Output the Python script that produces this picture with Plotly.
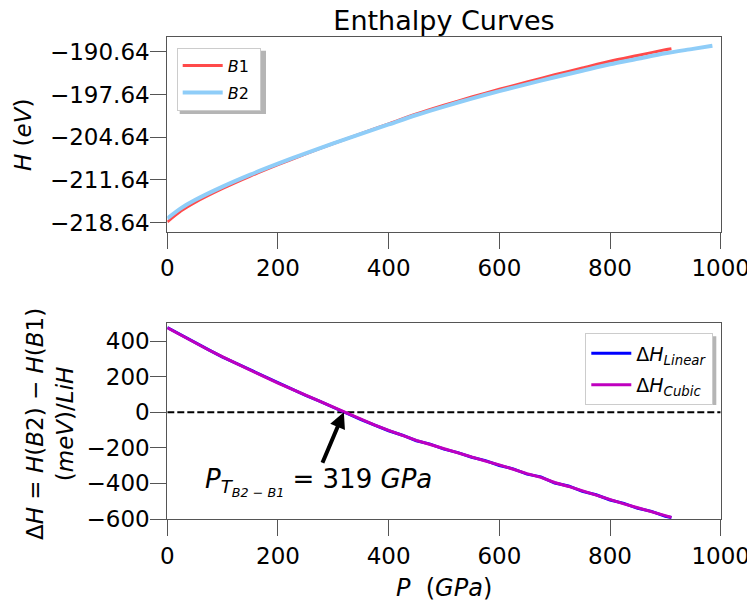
import plotly.graph_objects as go

# ---------------- data ----------------
P_B1 = [0, 25, 50, 100, 150, 200, 250, 300, 350, 400, 450, 500, 550, 600, 650, 700, 750, 800, 850, 900, 911]
H_B1 = [-218.50, -216.70, -215.32, -213.04, -211.01, -209.14, -207.37, -205.67, -204.06, -202.45, -200.84,
        -199.41, -198.06, -196.79, -195.60, -194.41, -193.31, -192.21, -191.26, -190.32, -190.15]

P_B2 = [0, 25, 50, 100, 150, 200, 250, 300, 350, 400, 450, 500, 550, 600, 650, 700, 750, 800, 850, 900, 950, 985]
H_B2 = [-217.94, -216.25, -214.93, -212.73, -210.77, -208.98, -207.27, -205.64, -204.10, -202.55, -201.00,
        -199.62, -198.31, -197.09, -195.95, -194.81, -193.75, -192.70, -191.80, -190.90, -190.17, -189.65]

P_dH = [0, 25, 50, 75, 100, 125, 150, 175, 200, 225, 250, 275, 300, 325, 350, 375, 400, 425, 450, 475,
        500, 525, 550, 575, 600, 625, 650, 675, 700, 725, 750, 775, 800, 825, 850, 875, 900, 911]
dH_linear = [476, 433, 390, 351, 310, 274, 235, 201, 163, 131, 95, 63, 26, -7, -41, -71, -104, -129, -160, -179,
             -207, -227, -253, -272, -299, -318, -348, -363, -398, -414, -445, -464, -493, -512, -540, -557, -585, -592]
dH_cubic = [475, 432, 391, 350, 311, 273, 236, 200, 164, 130, 96, 62, 27, -8, -40, -72, -102, -131, -158, -181,
            -205, -229, -250, -275, -296, -321, -345, -366, -395, -417, -442, -467, -490, -515, -537, -560, -582, -591]

P_transition = 319

top_ytick_vals = [-218.64, -211.64, -204.64, -197.64, -190.64]
top_ytick_text = ["\u2212218.64", "\u2212211.64", "\u2212204.64", "\u2212197.64", "\u2212190.64"]
bot_ytick_vals = [-600, -400, -200, 0, 200, 400]
bot_ytick_text = ["\u2212600", "\u2212400", "\u2212200", "0", "200", "400"]
xtick_vals = [0, 200, 400, 600, 800, 1000]
xtick_text = ["0", "200", "400", "600", "800", "1000"]

# ---------------- figure ----------------
# the page body has an 8px margin, so the figure is drawn 8px smaller and
# every target position (given in window pixels) is shifted by OFF
OFF = 8
W, H = 755 - OFF, 606 - OFF
FONT = "DejaVu Sans"
AX = "#555555"


def px(x):
    return (x - OFF) / W


def py(y):
    return 1 - (y - OFF) / H


fig = go.Figure()
fig.add_trace(go.Scatter(x=P_B1, y=H_B1, mode="lines", name="<i>B</i>1\u00a0",
                         line=dict(color="#ff4a4a", width=3, shape="spline", smoothing=0.8), xaxis="x", yaxis="y",
                         legend="legend", legendgroup="a"))
fig.add_trace(go.Scatter(x=P_B2, y=H_B2, mode="lines", name="<i>B</i>2\u00a0",
                         line=dict(color="#8fcdf8", width=4, shape="spline", smoothing=0.8), xaxis="x", yaxis="y",
                         legend="legend", legendgroup="b"))
fig.add_trace(go.Scatter(x=P_dH, y=dH_linear, mode="lines", name="\u0394<i>H</i><sub><i>Linear</i></sub>",
                         line=dict(color="#0000ff", width=3), xaxis="x2", yaxis="y2",
                         legend="legend2", legendgroup="c"))
fig.add_trace(go.Scatter(x=P_dH, y=dH_cubic, mode="lines", name="\u0394<i>H</i><sub><i>Cubic</i></sub>",
                         line=dict(color="#bf00bf", width=3), xaxis="x2", yaxis="y2",
                         legend="legend2", legendgroup="d"))

xdom = [px(167.3), px(720.7)]
axis_common = dict(showgrid=False, zeroline=False, showline=True, mirror=True, linecolor=AX, linewidth=1,
                   ticks="outside", ticklen=16, tickwidth=1, tickcolor=AX, automargin=False,
                   tickfont=dict(family=FONT, size=23, color="black"))

fig.update_layout(
    width=W, height=H, margin=dict(l=0, r=0, t=0, b=0, autoexpand=False),
    paper_bgcolor="white", plot_bgcolor="white",
    font=dict(family=FONT, color="black"),
    xaxis=dict(domain=xdom, anchor="y", range=[0, 1000], tickvals=xtick_vals, ticktext=xtick_text, **axis_common),
    yaxis=dict(domain=[py(231.7), py(36.7)], anchor="x", range=[-220.11, -188.18],
               tickvals=top_ytick_vals, ticktext=top_ytick_text, ticklabelstandoff=-4, **axis_common),
    xaxis2=dict(domain=xdom, anchor="y2", range=[0, 1000], tickvals=xtick_vals, ticktext=xtick_text, **axis_common),
    yaxis2=dict(domain=[py(519), py(323.3)], anchor="x2", range=[-600, 500],
                tickvals=bot_ytick_vals, ticktext=bot_ytick_text, ticklabelstandoff=-4, **axis_common),
    title=dict(text="Enthalpy Curves", x=px(444), xanchor="center", y=py(21), yanchor="middle",
               xref="paper", yref="container", automargin=False,
               font=dict(family=FONT, size=27, color="black")),
    legend=dict(x=px(176.7), xanchor="left", y=py(47.7), yanchor="top", bgcolor="white",
                bordercolor="#cccccc", borderwidth=1, font=dict(family=FONT, size=16, color="black"),
                itemwidth=40, tracegroupgap=3, traceorder="grouped"),
    legend2=dict(x=px(713.3), xanchor="right", y=py(333.3), yanchor="top", bgcolor="white",
                 bordercolor="#cccccc", borderwidth=1, font=dict(family=FONT, size=19, color="black"),
                 itemwidth=40, tracegroupgap=4, traceorder="grouped"),
    showlegend=True,
)

# legend drop shadows (drawn under the legend boxes)
for (x0, y0, x1, y1) in [(176.7, 47.7, 263.0, 111.0), (583.0, 333.3, 713.3, 402.0)]:
    fig.add_shape(type="rect", xref="paper", yref="paper",
                  x0=px(x0 + 3), x1=px(x1 + 3), y0=py(y1 + 3), y1=py(y0 + 3),
                  line=dict(width=0), fillcolor="rgba(120,120,120,0.55)", layer="above")

# dashed zero line
fig.add_shape(type="line", xref="x2", yref="y2", x0=0, x1=1000, y0=0, y1=0,
              line=dict(color="black", width=2, dash="7px,3px"), layer="below")

# arrow
fig.add_annotation(xref="x2", yref="y2", x=P_transition, y=0, ax=-22, ay=52, text="",
                   showarrow=True, arrowhead=2, arrowsize=0.8, arrowwidth=4, arrowcolor="black", standoff=0)
# transition label
fig.add_annotation(xref="paper", yref="paper", x=px(318), y=py(482), xanchor="center", yanchor="middle",
                   text="<i>P</i><sub><i>T</i><sub><i>B2 \u2212 B1</i></sub></sub> = 319 <i>GPa</i>",
                   showarrow=False, font=dict(family=FONT, size=26, color="black"))

# axis labels
fig.add_annotation(xref="paper", yref="paper", x=px(444), y=py(588), xanchor="center", yanchor="middle",
                   text="<i>P</i>\u00a0\u00a0(<i>GPa</i>)", showarrow=False,
                   font=dict(family=FONT, size=24, color="black"))
fig.add_annotation(xref="paper", yref="paper", x=px(23), y=py(135), xanchor="center", yanchor="middle",
                   text="<i>H</i> (<i>eV</i>)", textangle=-90, showarrow=False,
                   font=dict(family=FONT, size=23, color="black"))
fig.add_annotation(xref="paper", yref="paper", x=px(50), y=py(424), xanchor="center", yanchor="middle",
                   text="\u0394<i>H</i> = <i>H</i>(<i>B</i>2) \u2212 <i>H</i>(<i>B</i>1)<br>(<i>meV</i>)/<i>LiH</i>",
                   textangle=-90, showarrow=False, font=dict(family=FONT, size=23, color="black"))

fig.write_html("out.html")
